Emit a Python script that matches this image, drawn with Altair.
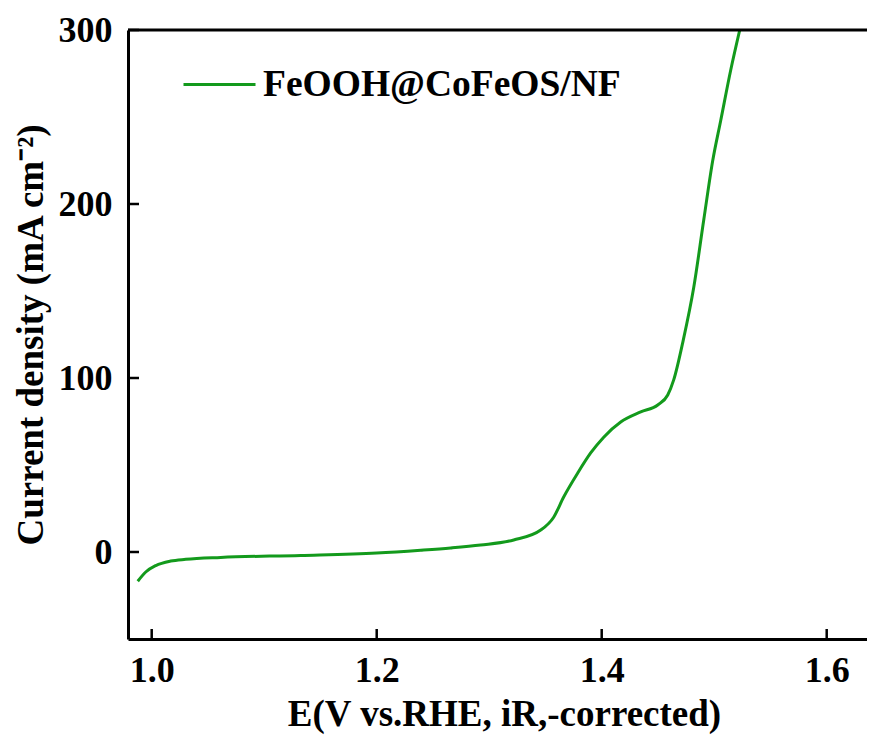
import altair as alt
import pandas as pd

# ---- data ----
potential = [0.9876, 0.9947, 1.0036, 1.0169, 1.0302, 1.0613, 1.1324, 1.2000,
             1.2391, 1.2658, 1.2924, 1.3218, 1.3458, 1.3573, 1.3662, 1.3787,
             1.3902, 1.4018, 1.4169, 1.4347, 1.4498, 1.4587, 1.4640,
             1.4725, 1.4818, 1.4907, 1.4987, 1.5058, 1.5147, 1.5227]
current = [-16.8, -11.5, -7.8, -5.2, -4.2, -3.1, -2.0, -0.6,
           1.0, 2.3, 4.0, 6.9, 12.6, 20.0, 31.6, 45.4,
           56.9, 66.0, 74.7, 80.5, 84.5, 90.2, 98.9,
           121.8, 152.0, 190.8, 225.0, 248.0, 277.0, 300.0]
series_name = "FeOOH@CoFeOS/NF"

x_ticks = [1.0, 1.2, 1.4, 1.6]
y_ticks = [0, 100, 200, 300]

W, H = 739, 609
x_dom = [0.97893, 1.63582]
y_dom = [-50, 300]
FONT = "Liberation Serif"
GREEN = "#139a1c"

df = pd.DataFrame({"E": potential, "J": current, "series": series_name})

xs = alt.Scale(domain=x_dom, nice=False, zero=False)
ys = alt.Scale(domain=y_dom, nice=False, zero=False)

line = alt.Chart(df).mark_line(strokeWidth=3, interpolate="monotone", clip=True).encode(
    x=alt.X("E:Q", scale=xs,
            axis=alt.Axis(values=x_ticks, format=".1f", title="E(V vs.RHE, iR,-corrected)",
                          ticks=False, tickSize=0, labelPadding=14, titlePadding=8,
                          titleX=376)),
    y=alt.Y("J:Q", scale=ys,
            axis=alt.Axis(values=y_ticks, format="d", title="Current density (mA cm⁻²)",
                          ticks=False, tickSize=0, labelPadding=16, titlePadding=8)),
    color=alt.Color("series:N", scale=alt.Scale(range=[GREEN]),
                    legend=alt.Legend(title=None, orient="none", legendX=54, legendY=17,
                                      symbolType="stroke", symbolSize=5184,
                                      symbolStrokeWidth=3, labelOffset=6, padding=0,
                                      labelFont=FONT, labelFontSize=37.5,
                                      labelFontWeight="bold", labelColor="black",
                                      labelLimit=0)),
)

xt = alt.Chart(pd.DataFrame({"v": x_ticks})).mark_rule(color="black", strokeWidth=2.5).encode(
    x=alt.X("v:Q", scale=xs), y=alt.value(H), y2=alt.value(H - 10))
yt = alt.Chart(pd.DataFrame({"v": y_ticks})).mark_rule(color="black", strokeWidth=2.5).encode(
    y=alt.Y("v:Q", scale=ys), x=alt.value(0), x2=alt.value(11))
top = alt.Chart(pd.DataFrame({"v": [0]})).mark_rule(color="black", strokeWidth=3).encode(
    y=alt.value(0), x=alt.value(0), x2=alt.value(W))

chart = alt.layer(line, xt, yt, top).properties(
    width=W, height=H,
    autosize=alt.AutoSizeParams(type="none"),
    padding={"left": 120, "top": 22, "right": 0, "bottom": 98},
    background="white",
).configure_view(stroke=None).configure_axis(
    grid=False, domainColor="black", domainWidth=3,
    labelFont=FONT, labelFontSize=36, labelFontWeight="bold", labelColor="black",
    titleFont=FONT, titleFontSize=37, titleFontWeight="bold", titleColor="black",
)

chart.save("out.html", embed_options={"renderer": "svg", "actions": False})
